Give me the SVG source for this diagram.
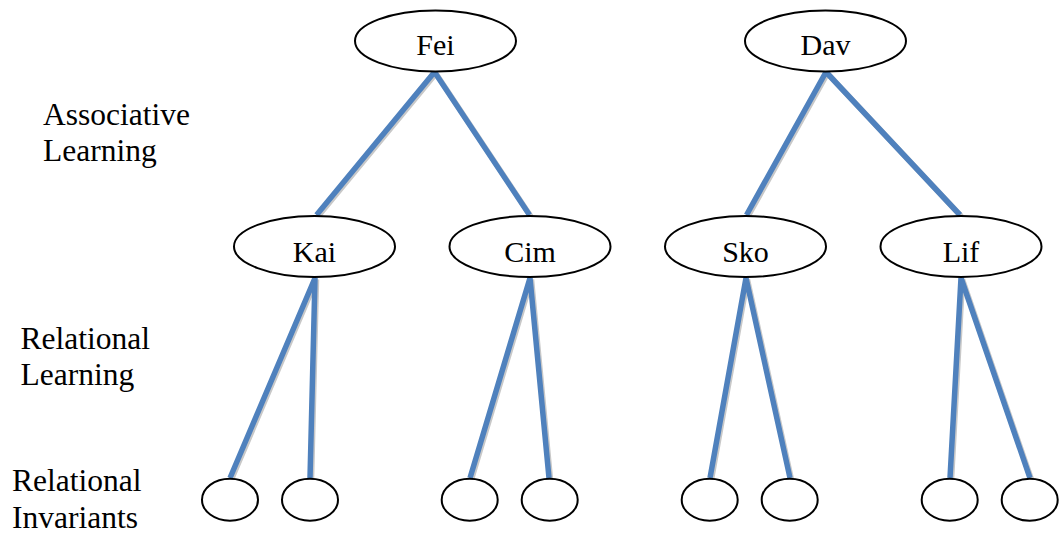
<svg xmlns="http://www.w3.org/2000/svg" width="1061" height="538" viewBox="0 0 1061 538">
<style>
.node{fill:#fff;stroke:#000;stroke-width:2}
.sh{stroke:#c8c8c8;stroke-width:5.5;fill:none}
.ln{stroke:#4F81BD;stroke-width:5.5;fill:none}
</style>
<rect width="1061" height="538" fill="#fff"/>
<g id="connectors">
<path class="sh" transform="translate(1.5,1.5)" d="M434.5,72 L316.5,215 M434.5,72 L529.5,215 M826,72 L746.5,215 M826,72 L960,215 M315,278 L230,478 M315,278 L310,478 M530,278 L470,478 M530,278 L549,478 M746,278 L710,478 M746,278 L790,478 M961,278 L950,478 M961,278 L1030,478"/>
<path class="ln" d="M434.5,72 L316.5,215 M434.5,72 L529.5,215 M826,72 L746.5,215 M826,72 L960,215 M315,278 L230,478 M315,278 L310,478 M530,278 L470,478 M530,278 L549,478 M746,278 L710,478 M746,278 L790,478 M961,278 L950,478 M961,278 L1030,478"/>
</g>
<g id="fei"><ellipse class="node" cx="435.5" cy="41" rx="80.5" ry="30.5"/><text x="435.5" y="55" font-family="Times New Roman, Liberation Serif, serif" font-size="30" text-anchor="middle">Fei</text></g>
<g id="dav"><ellipse class="node" cx="825.5" cy="41" rx="80.5" ry="30.5"/><text x="825.5" y="55" font-family="Times New Roman, Liberation Serif, serif" font-size="30" text-anchor="middle">Dav</text></g>
<g id="kai"><ellipse class="node" cx="314.5" cy="246.5" rx="80.5" ry="30.5"/><text x="314.5" y="261.5" font-family="Times New Roman, Liberation Serif, serif" font-size="30" text-anchor="middle">Kai</text></g>
<g id="cim"><ellipse class="node" cx="530" cy="246.5" rx="80.5" ry="30.5"/><text x="530" y="261.5" font-family="Times New Roman, Liberation Serif, serif" font-size="30" text-anchor="middle">Cim</text></g>
<g id="sko"><ellipse class="node" cx="745.5" cy="246.5" rx="80.5" ry="30.5"/><text x="745.5" y="261.5" font-family="Times New Roman, Liberation Serif, serif" font-size="30" text-anchor="middle">Sko</text></g>
<g id="lif"><ellipse class="node" cx="961" cy="246.5" rx="80.5" ry="30.5"/><text x="961" y="261.5" font-family="Times New Roman, Liberation Serif, serif" font-size="30" text-anchor="middle">Lif</text></g>
<g id="r1"><ellipse class="node" cx="230" cy="499.7" rx="28" ry="21"/></g>
<g id="r2"><ellipse class="node" cx="310" cy="499.7" rx="28" ry="21"/></g>
<g id="r3"><ellipse class="node" cx="469.7" cy="499.7" rx="28" ry="21"/></g>
<g id="r4"><ellipse class="node" cx="549.7" cy="499.7" rx="28" ry="21"/></g>
<g id="r5"><ellipse class="node" cx="709.7" cy="499.7" rx="28" ry="21"/></g>
<g id="r6"><ellipse class="node" cx="789.7" cy="499.7" rx="28" ry="21"/></g>
<g id="r7"><ellipse class="node" cx="949.7" cy="499.7" rx="28" ry="21"/></g>
<g id="r8"><ellipse class="node" cx="1029.7" cy="499.7" rx="28" ry="21"/></g>
<g id="labels">
<text x="43" y="125" font-family="Times New Roman, Liberation Serif, serif" font-size="31.5">Associative</text>
<text x="43" y="161" font-family="Times New Roman, Liberation Serif, serif" font-size="31.5">Learning</text>
<text x="20.5" y="348.5" font-family="Times New Roman, Liberation Serif, serif" font-size="31.5">Relational</text>
<text x="20.5" y="384.5" font-family="Times New Roman, Liberation Serif, serif" font-size="31.5">Learning</text>
<text x="12" y="491" font-family="Times New Roman, Liberation Serif, serif" font-size="31.5">Relational</text>
<text x="12" y="528" font-family="Times New Roman, Liberation Serif, serif" font-size="31.5">Invariants</text>
</g>
</svg>
